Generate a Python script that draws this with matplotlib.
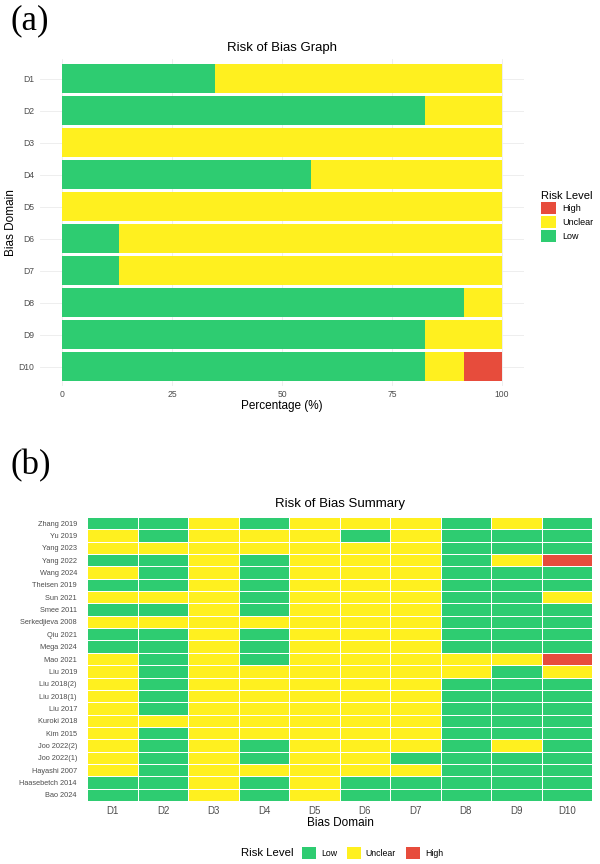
import matplotlib
matplotlib.use("Agg")
import matplotlib.pyplot as plt
from matplotlib.patches import Patch
from matplotlib.colors import ListedColormap, BoundaryNorm
import numpy as np

plt.rcParams['font.family'] = ['Liberation Sans', 'DejaVu Sans']

domains = ["D1", "D2", "D3", "D4", "D5", "D6", "D7", "D8", "D9", "D10"]
studies = ["Zhang 2019", "Yu 2019", "Yang 2023", "Yang 2022", "Wang 2024",
           "Theisen 2019", "Sun 2021", "Smee 2011", "Serkedjieva 2008",
           "Qiu 2021", "Mega 2024", "Mao 2021", "Liu 2019", "Liu 2018(2)",
           "Liu 2018(1)", "Liu 2017", "Kuroki 2018", "Kim 2015",
           "Joo 2022(2)", "Joo 2022(1)", "Hayashi 2007", "Haasebetch 2014",
           "Bao 2024"]
# L = Low, U = Unclear, H = High ; one string per study, D1..D10
ratings = [
    "LLULUUULUL",  # Zhang 2019
    "ULUUULULLL",  # Yu 2019
    "UUUUUUULLL",  # Yang 2023
    "LLULUUULUH",  # Yang 2022
    "ULULUUULLL",  # Wang 2024
    "LLULUUULLL",  # Theisen 2019
    "UUULUUULLU",  # Sun 2021
    "LLULUUULLL",  # Smee 2011
    "UUUUUUULLL",  # Serkedjieva 2008
    "LLULUUULLL",  # Qiu 2021
    "LLULUUULLL",  # Mega 2024
    "ULULUUUUUH",  # Mao 2021
    "ULUUUUUULU",  # Liu 2019
    "ULUUUUULLL",  # Liu 2018(2)
    "ULUUUUULLL",  # Liu 2018(1)
    "ULUUUUULLL",  # Liu 2017
    "UUUUUUULLL",  # Kuroki 2018
    "ULUUUUULLL",  # Kim 2015
    "ULULUUULUL",  # Joo 2022(2)
    "ULULUULLLL",  # Joo 2022(1)
    "ULUUUUULLL",  # Hayashi 2007
    "LLULULLLLL",  # Haasebetch 2014
    "LLULULLLLL",  # Bao 2024
]
levels = ["Low", "Unclear", "High"]
level_codes = ["L", "U", "H"]
colors = {"Low": "#2ECC71", "Unclear": "#FFF01F", "High": "#E74C3C"}

mat = np.array([[level_codes.index(c) for c in row] for row in ratings])
n_st = len(studies)
pct = {lv: np.array([(mat[:, j] == k).sum() / n_st * 100 for j in range(len(domains))])
       for k, lv in enumerate(levels)}

W, H = 600, 864
fig = plt.figure(figsize=(W / 100, H / 100), dpi=100)

def ax_px(l, t, r, b):
    return fig.add_axes([l / W, 1 - b / H, (r - l) / W, (b - t) / H])

def ftext(x, y, s, **kw):
    return fig.text(x / W, 1 - y / H, s, **kw)

txt_gray = "#4d4d4d"
grid_c = "#ebebeb"

# ---------- Panel (a) ----------
ftext(10, 4, "(a)", family="Liberation Serif", fontsize=25, ha="left", va="top")
ax1 = ax_px(40, 59.3, 524, 385.7)
ypos = np.arange(len(domains))
left = np.zeros(len(domains))
for lv in levels:
    ax1.barh(ypos, pct[lv], left=left, height=0.88, color=colors[lv], zorder=2,
             linewidth=0)
    left = left + pct[lv]
ax1.set_xlim(-5, 105)
ax1.set_ylim(len(domains) - 0.4, -0.6)
ax1.set_yticks(ypos)
ax1.set_yticklabels(domains)
ax1.set_xticks([0, 25, 50, 75, 100])
ax1.set_xticklabels(["0", "25", "50", "75", "100"])
ax1.tick_params(length=0, labelsize=6.2, labelcolor=txt_gray)
ax1.tick_params(axis="x", pad=3)
ax1.tick_params(axis="y", pad=4)
ax1.grid(True, color=grid_c, linewidth=0.6, zorder=0)
for s in ax1.spines.values():
    s.set_visible(False)
ftext(282, 406, "Percentage (%)", fontsize=8.5, ha="center", va="center")
ftext(11.5, 222.5, "Bias Domain", fontsize=8.5, ha="center", va="center",
      rotation=90)
ftext(282, 47.5, "Risk of Bias Graph", fontsize=9.5, ha="center", va="center")

h1 = [Patch(facecolor=colors[lv], edgecolor="none", label=lv) for lv in ["High", "Unclear", "Low"]]
leg1 = fig.legend(handles=h1, title="Risk Level", loc="upper left",
                  bbox_to_anchor=(537 / W, 1 - 187 / H), frameon=False,
                  fontsize=6.5, title_fontsize=8, handlelength=1.75,
                  handleheight=1.75, handletextpad=0.7, labelspacing=0.15,
                  borderaxespad=0)
leg1._legend_box.align = "left"

# ---------- Panel (b) ----------
ftext(10, 449, "(b)", family="Liberation Serif", fontsize=25, ha="left", va="top")
ax2 = ax_px(87.3, 517, 592, 801)
cmap = ListedColormap([colors[lv] for lv in levels])
norm = BoundaryNorm([-0.5, 0.5, 1.5, 2.5], cmap.N)
ax2.pcolormesh(np.arange(len(domains) + 1) - 0.5, np.arange(n_st + 1) - 0.5, mat,
               cmap=cmap, norm=norm, edgecolors="white", linewidth=0.7)
ax2.set_xlim(-0.5, len(domains) - 0.5)
ax2.set_ylim(n_st - 0.5, -0.5)
ax2.set_xticks(np.arange(len(domains)))
ax2.set_xticklabels(domains)
ax2.set_yticks(np.arange(n_st))
ax2.set_yticklabels(studies)
ax2.tick_params(axis="y", length=0, labelsize=5.3, labelcolor=txt_gray, pad=7.5)
ax2.tick_params(axis="x", length=0, labelsize=7, labelcolor=txt_gray, pad=3.5)
for s in ax2.spines.values():
    s.set_visible(False)
ftext(340, 822.5, "Bias Domain", fontsize=8.5, ha="center", va="center")
ftext(340, 504, "Risk of Bias Summary", fontsize=9.5, ha="center", va="center")

ftext(241, 853, "Risk Level", fontsize=8.2, ha="left", va="center")
h2 = [Patch(facecolor=colors[lv], edgecolor="none", label=lv) for lv in levels]
leg2 = fig.legend(handles=h2, loc="center left",
                  bbox_to_anchor=(298 / W, 1 - 853 / H), frameon=False, ncol=3,
                  fontsize=6.3, handlelength=1.6, borderaxespad=0,
                  handleheight=1.6, handletextpad=0.6, columnspacing=1.1)

fig.savefig("out.png", dpi=100)
